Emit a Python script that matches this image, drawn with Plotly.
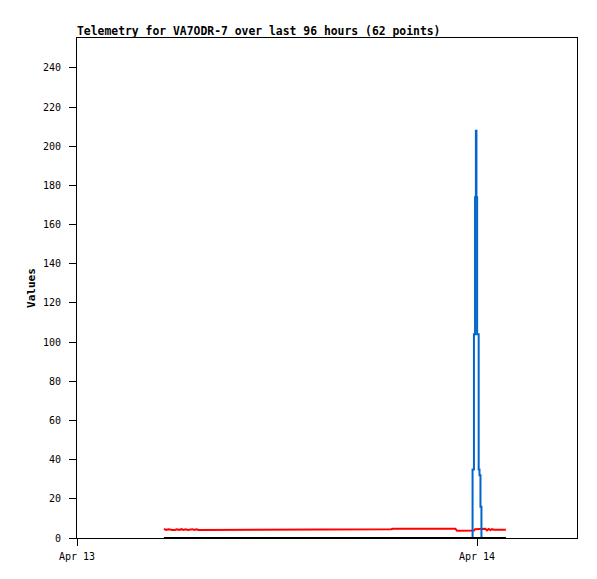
import plotly.graph_objects as go

# telemetry samples (62 points)
times = [
    "2024-04-13 05:13", "2024-04-13 05:21", "2024-04-13 05:29", "2024-04-13 05:37",
    "2024-04-13 05:44", "2024-04-13 05:52", "2024-04-13 06:00", "2024-04-13 06:08",
    "2024-04-13 06:16", "2024-04-13 06:23", "2024-04-13 06:31", "2024-04-13 06:39",
    "2024-04-13 06:47", "2024-04-13 06:55", "2024-04-13 07:02", "2024-04-13 07:10",
    "2024-04-13 07:18", "2024-04-13 07:26", "2024-04-13 07:34", "2024-04-13 07:42",
    "2024-04-13 08:18", "2024-04-13 09:00", "2024-04-13 09:42", "2024-04-13 10:24",
    "2024-04-13 11:00", "2024-04-13 11:33",
    "2024-04-13 11:39", "2024-04-13 13:00", "2024-04-13 14:30", "2024-04-13 16:00",
    "2024-04-13 17:30", "2024-04-13 18:51",
    "2024-04-13 18:57", "2024-04-13 20:00", "2024-04-13 21:00", "2024-04-13 22:00",
    "2024-04-13 22:42",
    "2024-04-13 22:48", "2024-04-13 23:12", "2024-04-13 23:37",
    "2024-04-13 23:44:00", "2024-04-13 23:49:00", "2024-04-13 23:53:00", "2024-04-13 23:56:00",
    "2024-04-13 23:58:00", "2024-04-14 00:00:30", "2024-04-14 00:06:00", "2024-04-14 00:09:00",
    "2024-04-14 00:12:30", "2024-04-14 00:16:00",
    "2024-04-14 00:24", "2024-04-14 00:30", "2024-04-14 00:36", "2024-04-14 00:42",
    "2024-04-14 00:48", "2024-04-14 00:54", "2024-04-14 01:00", "2024-04-14 01:06",
    "2024-04-14 01:15", "2024-04-14 01:24", "2024-04-14 01:33", "2024-04-14 01:44",
]

red_vals = [
    4.7, 4.1, 4.4, 4.1, 4.1, 4.1, 4.5, 4.1, 4.5, 4.1,
    4.5, 4.1, 4.5, 4.5, 4.1, 4.5, 4.1, 4.1, 4.1, 4.1,
    4.1, 4.1, 4.1, 4.1, 4.1, 4.1,
    4.45, 4.45, 4.45, 4.45, 4.45, 4.45,
    4.75, 4.75, 4.75, 4.75, 4.75,
    3.75, 3.75, 3.75,
    3.75, 3.8, 4.5, 4.5, 4.5, 4.6, 4.6, 4.5, 4.5, 4.6,
    4.4, 4.7, 3.9, 4.6, 4.0, 4.5, 4.2, 4.2, 4.2, 4.2, 4.2, 4.2,
]

blue_vals = [0] * 40 + [35, 104, 174, 208, 174, 104, 35, 32, 16, 0] + [0] * 12

black_vals = [0] * 62

mono = "DejaVu Sans Mono"

fig = go.Figure()
fig.add_trace(go.Scatter(x=times, y=red_vals, mode="lines", line=dict(color="#ff0000", width=2)))
fig.add_trace(go.Scatter(x=times, y=blue_vals, mode="lines",
                         line=dict(color="#0066cc", width=2, shape="hv")))
fig.add_trace(go.Scatter(x=times, y=black_vals, mode="lines", line=dict(color="#000000", width=2)))

# page body has an 8px margin, so the figure is a bit smaller than the window
fig.update_layout(
    width=589, height=571,
    margin=dict(l=69, r=20, t=30, b=41),
    paper_bgcolor="white", plot_bgcolor="white",
    showlegend=False,
    font=dict(family=mono, size=10, color="black"),
    title=dict(text="<b>Telemetry for VA7ODR-7 over last 96 hours (62 points)</b>",
               x=0, xanchor="left", xref="paper",
               y=1 - 27 / 571, yanchor="bottom", yref="container",
               font=dict(family=mono, size=11.4, color="black")),
)

fig.update_xaxes(
    range=["2024-04-13 00:00", "2024-04-14 06:00"],
    tickvals=["2024-04-13 00:00", "2024-04-14 00:00"],
    ticktext=["Apr 13", "Apr 14"],
    ticks="outside", ticklen=7, tickcolor="black", ticklabelstandoff=2,
    showline=True, linecolor="black", linewidth=1, mirror=True,
    showgrid=False, zeroline=False,
)
fig.update_yaxes(
    range=[0, 255.3],
    tickvals=list(range(0, 241, 20)),
    ticks="outside", ticklen=7, tickcolor="black", ticklabelstandoff=6,
    showline=True, linecolor="black", linewidth=1, mirror=True,
    showgrid=False, zeroline=False,
    title=dict(text="<b>Values</b>", font=dict(family=mono, size=11), standoff=5),
)

fig.write_html("out.html")
